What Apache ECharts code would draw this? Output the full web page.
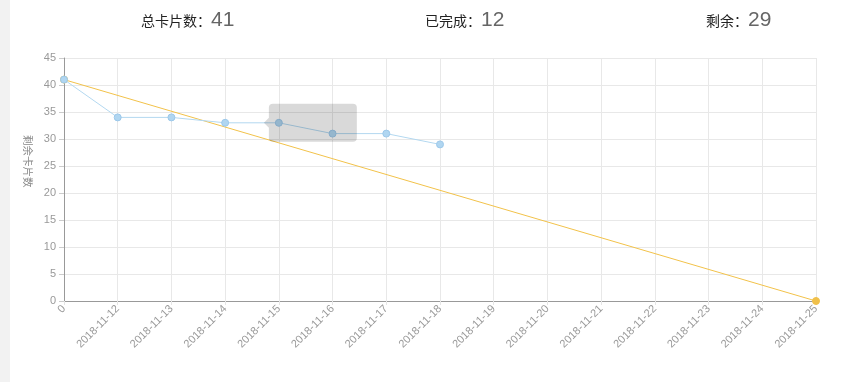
<!DOCTYPE html>
<html><head><meta charset="utf-8">
<script src="https://cdn.jsdelivr.net/npm/echarts@6/dist/echarts.min.js"></script>
<style>html,body{margin:0;padding:0;background:#fff;}#c{width:851px;height:382px;}</style>
</head><body><div id="c"></div>
<script>
const categories = ['0','2018-11-12','2018-11-13','2018-11-14','2018-11-15','2018-11-16','2018-11-17','2018-11-18','2018-11-19','2018-11-20','2018-11-21','2018-11-22','2018-11-23','2018-11-24','2018-11-25'];
const remaining = [41,34,34,33,33,31,31,29];
const ideal = [41,null,null,null,null,null,null,null,null,null,null,null,null,null,0];
const totalCards = 41, done = 12, left = 29;
const yAxisName = '剩余卡片数';

const chart = echarts.init(document.getElementById('c'));
const font = 'Arial, "Liberation Sans", "Noto Sans CJK SC", sans-serif';
const option = {
  animation: false,
  grid: {left: 64, right: 35, top: 58, bottom: 81},
  xAxis: {
    type: 'category', data: categories, boundaryGap: false,
    axisLine: {lineStyle: {color: '#999'}},
    axisTick: {show: true, length: 4, lineStyle: {color: '#e5e5e5'}},
    axisLabel: {rotate: 45, color: '#999', fontSize: 11, fontFamily: font, interval: 0, margin: 6},
    splitLine: {show: true, lineStyle: {color: '#e8e8e8'}}
  },
  yAxis: {
    type: 'value', min: 0, max: 45, interval: 5,
    axisLine: {show: true, lineStyle: {color: '#999'}},
    axisTick: {show: true, length: 5, lineStyle: {color: '#ccc'}},
    axisLabel: {color: '#999', fontSize: 11, fontFamily: font, margin: 8},
    splitLine: {lineStyle: {color: '#e8e8e8'}}
  },
  series: [
    {type: 'line', data: ideal, connectNulls: true, symbol: 'circle', symbolSize: 7,
     showAllSymbol: true,
     lineStyle: {color: '#f2c24a', width: 1}, itemStyle: {color: '#f0c04a', borderColor: '#f0c04a'}, z: 2},
    {type: 'line', data: remaining, symbol: 'circle', symbolSize: 7,
     lineStyle: {color: '#b3d8f0', width: 1}, itemStyle: {color: '#b0d6f1', borderColor: '#9cc8ea', borderWidth: 1}, z: 3}
  ]
};
chart.setOption(option);

function head(x, label, num) {
  return {type: 'text', left: x, top: 10, style: {
    text: '{a|' + label + '}{b|' + num + '}',
    rich: {a: {fontSize: 14, fill: '#222', fontFamily: font, verticalAlign: 'bottom', padding: [0,0,2,0]},
           b: {fontSize: 21, fill: '#666', fontFamily: font, verticalAlign: 'bottom'}}
  }};
}
const p = chart.convertToPixel({seriesIndex: 1}, [4, remaining[4]]);
chart.setOption({graphic: [
  {type: 'rect', shape: {x: 0, y: 0, width: 10, height: 382}, style: {fill: '#f2f2f2'}},
  head(141, '总卡片数：', totalCards),
  head(425, '已完成：', done),
  head(706, '剩余：', left),
  {type: 'text', x: 32, y: 135, rotation: -Math.PI/2, style: {text: yAxisName, fontSize: 10.5, fill: '#888', fontFamily: font}},
  {type: 'rect', z: 100, shape: {x: p[0] - 10, y: p[1] - 19, width: 88, height: 38, r: 4}, style: {fill: 'rgba(0,0,0,0.15)'}},
  {type: 'polygon', z: 100, shape: {points: [[p[0] - 10, p[1] - 5], [p[0] - 15, p[1]], [p[0] - 10, p[1] + 5]]}, style: {fill: 'rgba(0,0,0,0.15)'}}
]});
</script></body></html>
